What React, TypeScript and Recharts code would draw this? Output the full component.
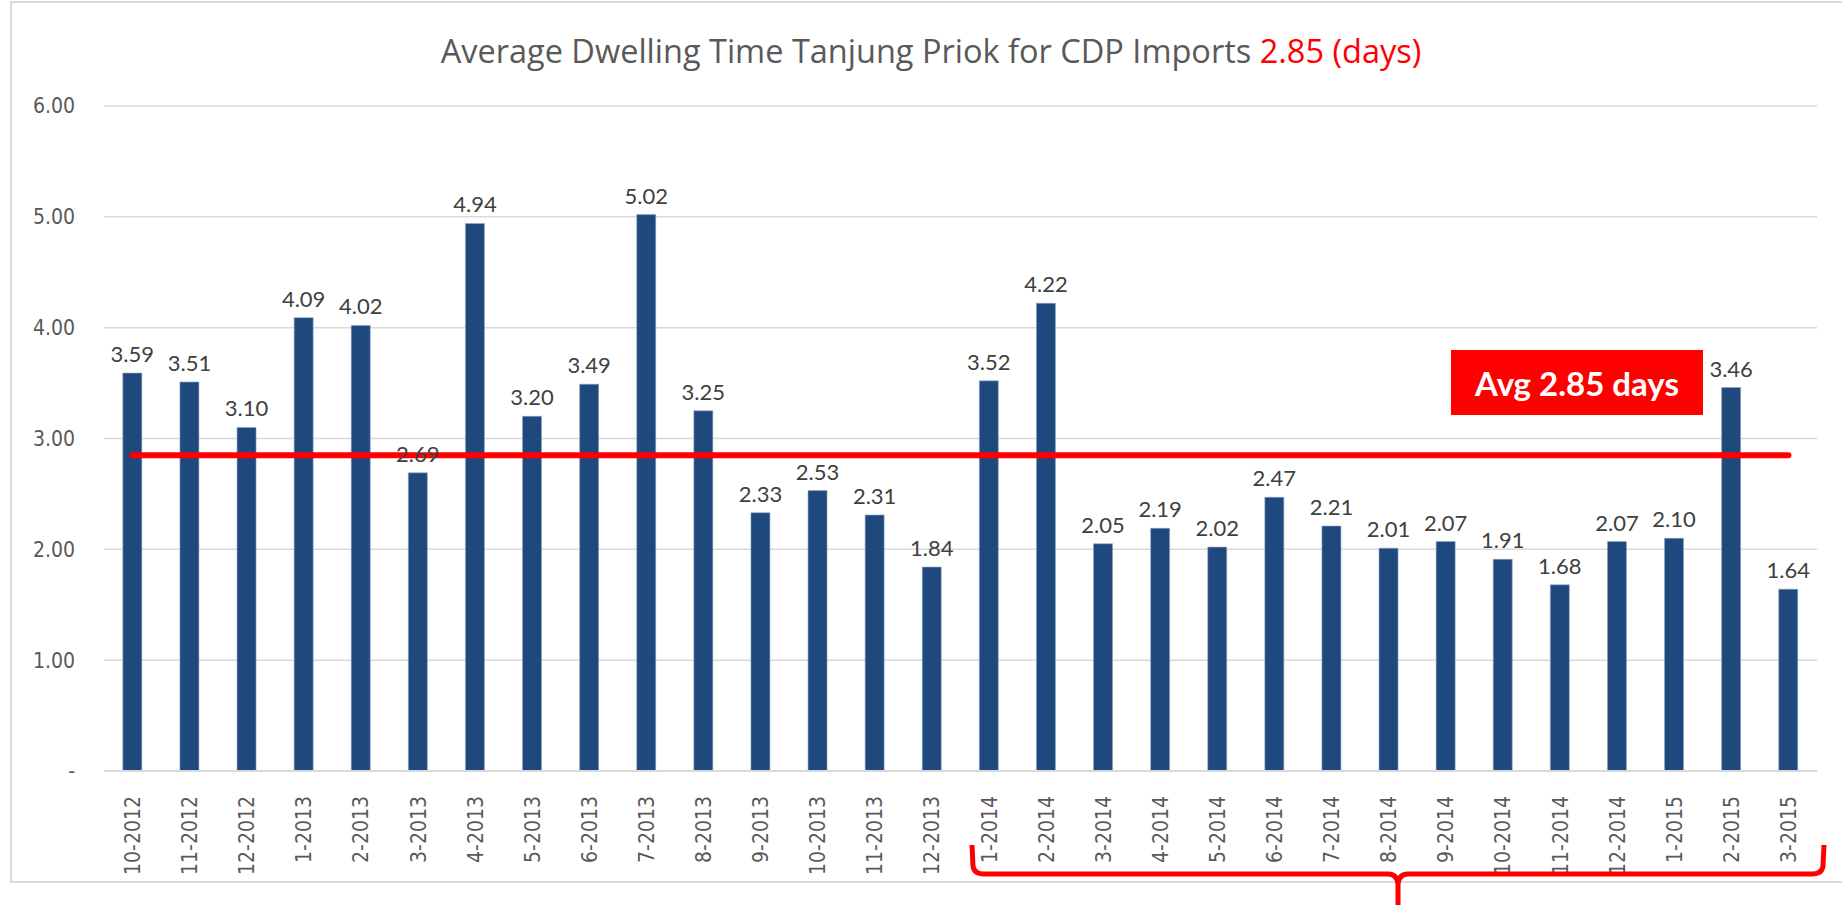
import { BarChart, Bar, XAxis, YAxis, CartesianGrid, ReferenceLine, LabelList } from 'recharts'

const months = [
  '10-2012', '11-2012', '12-2012',
  '1-2013', '2-2013', '3-2013', '4-2013', '5-2013', '6-2013',
  '7-2013', '8-2013', '9-2013', '10-2013', '11-2013', '12-2013',
  '1-2014', '2-2014', '3-2014', '4-2014', '5-2014', '6-2014',
  '7-2014', '8-2014', '9-2014', '10-2014', '11-2014', '12-2014',
  '1-2015', '2-2015', '3-2015',
]
const dwellDays = [
  3.59, 3.51, 3.10,
  4.09, 4.02, 2.69, 4.94, 3.20, 3.49,
  5.02, 3.25, 2.33, 2.53, 2.31, 1.84,
  3.52, 4.22, 2.05, 2.19, 2.02, 2.47,
  2.21, 2.01, 2.07, 1.91, 1.68, 2.07,
  2.10, 3.46, 1.64,
]
const yTicks = [0, 1, 2, 3, 4, 5, 6]
const average = 2.85

const data = months.map((m, i) => ({ month: m, days: dwellDays[i] }))

const axisFont = '"DejaVu Sans Condensed", "DejaVu Sans", sans-serif'
const labelFont = 'Lato, Carlito, sans-serif'

const MonthTick = ({ x, y, payload }: any) => (
  <text
    x={x}
    y={y + 17}
    transform={`rotate(-90, ${x}, ${y + 17})`}
    textAnchor="end"
    dy="0.36em"
    fontSize={21}
    fontFamily={axisFont}
    style={{ fontStretch: 'condensed' }}
    fill="#595959"
  >
    {payload.value}
  </text>
)

export default function App() {
  return (
    <div style={{ position: 'fixed', left: 0, top: 0, width: 1842, height: 905, background: '#fff' }}>
      {/* chart frame */}
      <div
        style={{
          position: 'absolute', left: 10, top: 1, width: 1850, height: 882,
          border: '2px solid #d9d9d9', boxSizing: 'border-box',
        }}
      />
      <div
        style={{
          position: 'absolute', left: 0, top: 28, width: 1862, textAlign: 'center',
          fontFamily: 'Open Sans, sans-serif', fontSize: 32.5, color: '#595959', whiteSpace: 'nowrap',
        }}
      >
        Average Dwelling Time Tanjung Priok for CDP Imports <span style={{ color: '#ff0000' }}>2.85 (days)</span>
      </div>
      <div style={{ position: 'absolute', left: 0, top: 0 }}>
        <BarChart
          width={1842}
          height={905}
          data={data}
          barCategoryGap="33%"
          margin={{ top: 106, right: 25, left: 14, bottom: 34 }}
        >
          <CartesianGrid vertical={false} stroke="#d9d9d9" strokeWidth={1.5} />
          <XAxis
            dataKey="month"
            interval={0}
            height={100}
            tickLine={false}
            axisLine={{ stroke: '#d9d9d9', strokeWidth: 2 }}
            tick={<MonthTick />}
          />
          <YAxis
            width={90}
            domain={[0, 6]}
            ticks={yTicks}
            tickLine={false}
            axisLine={false}
            tickSize={0}
            tickMargin={29}
            tickFormatter={(v: number) => (v === 0 ? '-' : v.toFixed(2))}
            tick={{ fontSize: 21, fill: '#595959', fontFamily: axisFont, style: { fontStretch: 'condensed' } }}
          />
          <Bar dataKey="days" fill="#1f497d" stroke="#8fa5c4" strokeWidth={0.6} isAnimationActive={false}>
            <LabelList
              dataKey="days"
              position="top"
              offset={11}
              formatter={(v: any) => Number(v).toFixed(2)}
              style={{ fontSize: 22, fill: '#404040', fontFamily: labelFont }}
            />
          </Bar>
          <ReferenceLine
            segment={[{ x: months[0], y: average }, { x: months[months.length - 1], y: average }]}
            stroke="#ff0000"
            strokeWidth={6}
            strokeLinecap="round"
          />
        </BarChart>
      </div>
      {/* average callout */}
      <div
        style={{
          position: 'absolute', left: 1451, top: 350, width: 252, height: 65,
          background: '#ff0000', color: '#fff', fontFamily: labelFont, fontWeight: 700,
          fontSize: 33, display: 'flex', alignItems: 'center', justifyContent: 'center',
        }}
      >
        Avg 2.85 days
      </div>
      {/* brace under 2014-2015 */}
      <svg style={{ position: 'absolute', left: 0, top: 0 }} width={1842} height={905}>
        <path
          d="M 972 845 L 973 866 Q 974 874 984 874 L 1388 874 Q 1397 874 1398 884 L 1398 905 M 1398 884 Q 1399 874 1408 874 L 1812 874 Q 1822 874 1823 866 L 1824 845"
          fill="none"
          stroke="#ff0000"
          strokeWidth={5}
        />
      </svg>
    </div>
  )
}
